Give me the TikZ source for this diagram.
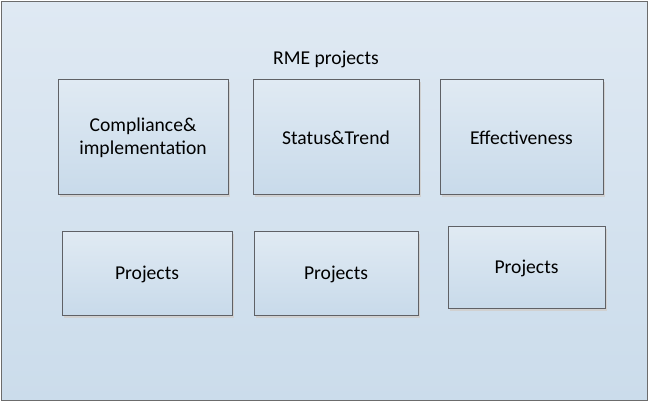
\documentclass[tikz,border=0pt]{standalone}
\usepackage{fontspec}
\setmainfont{Carlito}
\usepackage{tikz}
\usepackage{xcolor}
\usetikzlibrary{shapes,shadows,positioning,calc}

\definecolor{bgtop}{HTML}{DFE9F3}
\definecolor{bgbot}{HTML}{CBDCEB}
\definecolor{boxtop}{HTML}{E0EAF3}
\definecolor{boxbot}{HTML}{C8DAEA}
\definecolor{edgegray}{HTML}{5F6166}

\begin{document}
\begin{tikzpicture}[x=0.75pt,y=-0.75pt,
  every node/.style={font=\fontsize{14.7}{17.5}\selectfont,text=black},
  block/.style={shape=rectangle,draw=edgegray,line width=0.75pt,inner sep=0pt,
    top color=boxtop,bottom color=boxbot,align=center,
    drop shadow={shadow xshift=1.6pt,shadow yshift=-1.6pt,fill=black!18,opacity=1}}]
\useasboundingbox (0,0) rectangle (649,402);
\draw[draw=gray!85!black,line width=0.75pt,top color=bgtop,bottom color=bgbot] (1.5,1.5) rectangle (647.5,400.5);
\node (RME) at (326,59) {RME projects};
\node[block,minimum width=127.5pt,minimum height=86.25pt](Comp) at (143,137.5) {Compliance\&\\implementation};
\node[block,minimum width=124.5pt,minimum height=86.25pt](Stat) at (336,137.5) {Status\&Trend};
\node[block,minimum width=122.25pt,minimum height=86.25pt](Eff) at (521.5,137.5) {Effectiveness};
\node[block,minimum width=127.5pt,minimum height=63pt](P1) at (147,274) {Projects};
\node[block,minimum width=123pt,minimum height=63pt](P2) at (336,274) {Projects};
\node[block,minimum width=117.75pt,minimum height=61.5pt](P3) at (526.5,268) {Projects};
\end{tikzpicture}
\end{document}
